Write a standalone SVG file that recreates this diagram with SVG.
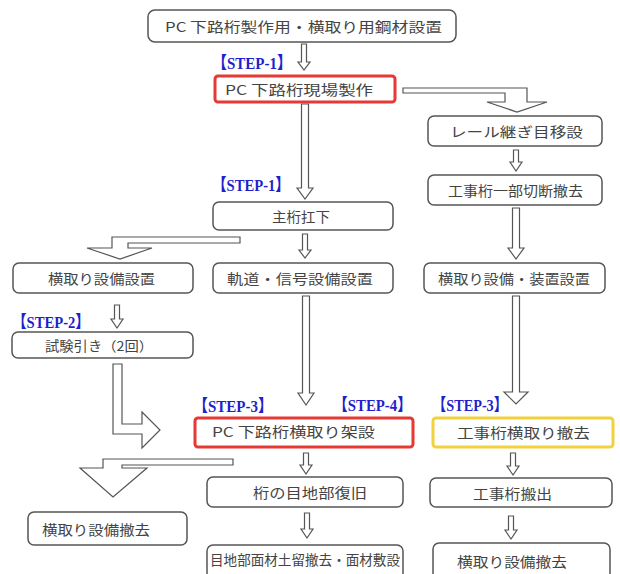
<svg xmlns="http://www.w3.org/2000/svg" width="620" height="574" viewBox="0 0 620 574">
<style>
.box{fill:#fff;stroke:#555;stroke-width:1.5}
.red{fill:#fff;stroke:#e53935;stroke-width:3}
.yel{fill:#fff;stroke:#f2d23c;stroke-width:3}
.t{font-family:"Noto Sans CJK JP","Noto Sans CJK SC",sans-serif;font-size:13.5px;fill:#444;text-anchor:middle;dominant-baseline:central}
.step{font-family:"Liberation Serif","Noto Sans CJK JP",serif;font-size:17px;font-weight:bold;fill:#1f1fcc;text-anchor:middle;dominant-baseline:central}
.arr{fill:#fff;stroke:#555;stroke-width:1.2;stroke-linejoin:miter}
</style>
<rect width="620" height="574" fill="#fff"/>

<g id="connectors">
<path class="arr" d="M301.5,44 L301.5,62 L298,62 L304,70 L310,62 L306.5,62 L306.5,44 Z"/>
<path class="arr" d="M301.5,104 L301.5,188 L297,188 L305,199 L313,188 L308.5,188 L308.5,104 Z"/>
<path class="arr" d="M302.5,234 L302.5,250 L299,250 L305,258 L311,250 L307.5,250 L307.5,234 Z"/>
<path class="arr" d="M302.5,296 L302.5,393 L298,393 L306,405 L314,393 L309.5,393 L309.5,296 Z"/>
<path class="arr" d="M303.5,453 L303.5,465 L300,465 L306,474 L312,465 L308.5,465 L308.5,453 Z"/>
<path class="arr" d="M304.5,513 L304.5,529 L301,529 L307,538 L313,529 L309.5,529 L309.5,513 Z"/>
<path class="arr" d="M513.5,150 L513.5,162 L510,162 L516,171 L522,162 L518.5,162 L518.5,150 Z"/>
<path class="arr" d="M512.5,208 L512.5,248 L508,248 L516,259 L524,248 L519.5,248 L519.5,208 Z"/>
<path class="arr" d="M512.5,296 L512.5,392 L504,392 L516,404 L528,392 L519.5,392 L519.5,296 Z"/>
<path class="arr" d="M510.5,453 L510.5,466 L507,466 L513,475 L519,466 L515.5,466 L515.5,453 Z"/>
<path class="arr" d="M508.5,516 L508.5,530 L505,530 L511,539 L517,530 L513.5,530 L513.5,516 Z"/>
<path class="arr" d="M114.5,305 L114.5,319 L111,319 L117,328 L123,319 L119.5,319 L119.5,305 Z"/>
<path class="arr" d="M403,88 L527,88 L527,102 L547,102 L517,112 L487,102 L505,102 L505,93 L403,93 Z"/>
<path class="arr" d="M240,237 L112,237 L112,248 L87,248 L120,259 L152,248 L128,248 L128,243 L240,243 Z"/>
<path class="arr" d="M113,364 L113,434 L142,434 L142,448 L160,430 L142,412 L142,424 L122,424 L122,364 Z"/>
<path class="arr" d="M233,459 L103,459 L103,468 L80,468 L113,497 L147,468 L122,468 L122,465 L233,465 Z"/>
</g>

<g id="n_top"><rect class="box" x="148" y="10" width="308" height="32" rx="7"/><text class="t" x="303.5" y="26" font-size="15" textLength="277" lengthAdjust="spacingAndGlyphs">PC 下路桁製作用・横取り用鋼材設置</text></g>
<g id="s_step1a"><text class="step" x="252" y="63" textLength="80" lengthAdjust="spacingAndGlyphs">【STEP-1】</text></g>
<g id="n_genba"><rect class="red" x="215" y="76" width="180" height="26" rx="3"/><text class="t" x="299" y="89" textLength="148" lengthAdjust="spacingAndGlyphs">PC 下路桁現場製作</text></g>
<g id="n_rail"><rect class="box" x="428" y="116" width="174" height="30" rx="6"/><text class="t" x="516.5" y="131" textLength="133" lengthAdjust="spacingAndGlyphs">レール継ぎ目移設</text></g>
<g id="n_cut"><rect class="box" x="428" y="175" width="174" height="30" rx="6"/><text class="t" x="515.5" y="190" textLength="135" lengthAdjust="spacingAndGlyphs">工事桁一部切断撤去</text></g>
<g id="s_step1b"><text class="step" x="251" y="185" textLength="78" lengthAdjust="spacingAndGlyphs">【STEP-1】</text></g>
<g id="n_kouka"><rect class="box" x="213" y="202" width="180" height="28" rx="6"/><text class="t" x="301" y="216" textLength="58" lengthAdjust="spacingAndGlyphs">主桁扛下</text></g>
<g id="n_yokosetti"><rect class="box" x="13" y="263" width="180" height="30" rx="6"/><text class="t" x="101.5" y="278" textLength="107" lengthAdjust="spacingAndGlyphs">横取り設備設置</text></g>
<g id="n_kidou"><rect class="box" x="213" y="263" width="180" height="30" rx="6"/><text class="t" x="300" y="278" textLength="146" lengthAdjust="spacingAndGlyphs">軌道・信号設備設置</text></g>
<g id="n_souchi"><rect class="box" x="424" y="263" width="181" height="30" rx="6"/><text class="t" x="514" y="278" textLength="152" lengthAdjust="spacingAndGlyphs">横取り設備・装置設置</text></g>
<g id="s_step2"><text class="step" x="51" y="322" textLength="78" lengthAdjust="spacingAndGlyphs">【STEP-2】</text></g>
<g id="n_shiken"><rect class="box" x="12" y="332" width="181" height="26" rx="6"/><text class="t" x="99" y="345" textLength="108" lengthAdjust="spacingAndGlyphs">試験引き（2回）</text></g>
<g id="s_step3a"><text class="step" x="233" y="406" textLength="80" lengthAdjust="spacingAndGlyphs">【STEP-3】</text></g>
<g id="s_step4"><text class="step" x="372.5" y="405" textLength="79" lengthAdjust="spacingAndGlyphs">【STEP-4】</text></g>
<g id="s_step3b"><text class="step" x="470" y="405" textLength="76" lengthAdjust="spacingAndGlyphs">【STEP-3】</text></g>
<g id="n_kasetsu"><rect class="red" x="195" y="418" width="218" height="29" rx="3"/><text class="t" x="293.5" y="431" textLength="163" lengthAdjust="spacingAndGlyphs">PC 下路桁横取り架設</text></g>
<g id="n_tekkyo"><rect class="yel" x="433" y="418" width="180" height="29" rx="3"/><text class="t" x="523.5" y="432" textLength="133" lengthAdjust="spacingAndGlyphs">工事桁横取り撤去</text></g>
<g id="n_meji"><rect class="box" x="207" y="477" width="196" height="30" rx="6"/><text class="t" x="310" y="492" textLength="114" lengthAdjust="spacingAndGlyphs">桁の目地部復旧</text></g>
<g id="n_hanshutsu"><rect class="box" x="430" y="478" width="182" height="29" rx="6"/><text class="t" x="512.5" y="493" textLength="79" lengthAdjust="spacingAndGlyphs">工事桁搬出</text></g>
<g id="n_yokotekkyoL"><rect class="box" x="28" y="512" width="159" height="33" rx="6"/><text class="t" x="96" y="529" textLength="108" lengthAdjust="spacingAndGlyphs">横取り設備撤去</text></g>
<g id="n_menzai"><rect class="box" x="207" y="545" width="196" height="34" rx="6"/><text class="t" x="305" y="559" textLength="190" lengthAdjust="spacingAndGlyphs">目地部面材土留撤去・面材敷設</text></g>
<g id="n_yokotekkyoR"><rect class="box" x="433" y="543" width="177" height="36" rx="6"/><text class="t" x="512" y="561" textLength="110" lengthAdjust="spacingAndGlyphs">横取り設備撤去</text></g>
</svg>
